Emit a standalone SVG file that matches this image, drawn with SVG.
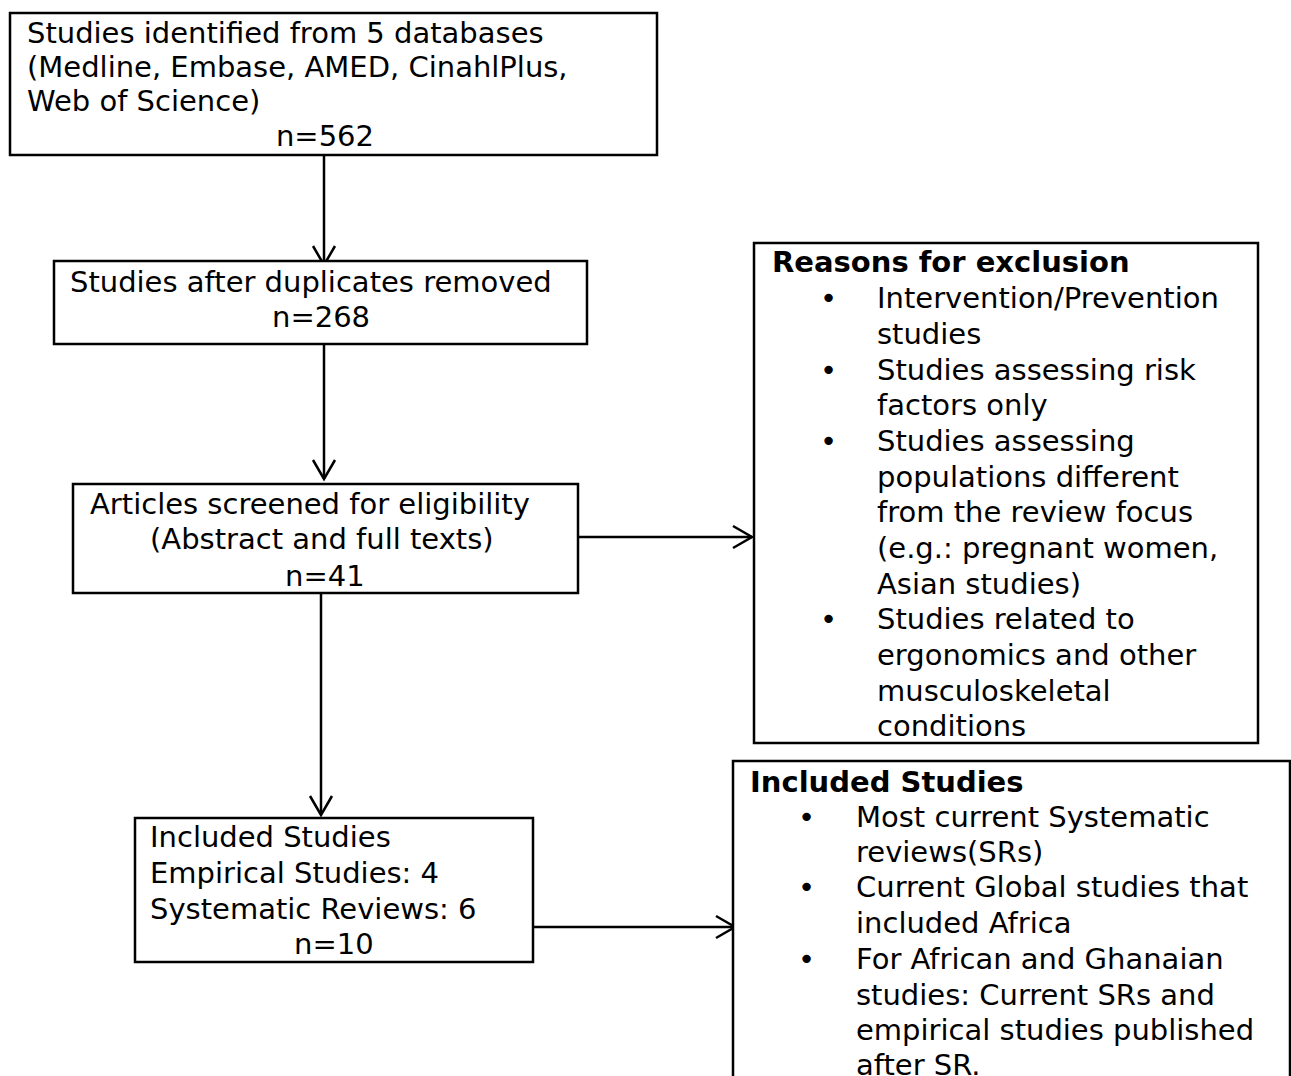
<svg xmlns="http://www.w3.org/2000/svg" width="1291" height="1076" viewBox="0 0 1291 1076">
<defs>
<style>
.box{fill:#fff;stroke:#000;stroke-width:2.5}
.t{font-family:"DejaVu Sans","Verdana",sans-serif;font-size:29px;fill:#000}
.b{font-weight:bold}
.c{fill:none;stroke:#000;stroke-width:2.5}
</style>
<marker id="ah" markerUnits="userSpaceOnUse" markerWidth="26" markerHeight="28" refX="22" refY="13" orient="auto">
<path d="M3,2 L22,13 L3,24" fill="none" stroke="#000" stroke-width="2.5"/>
</marker>
</defs>
<rect width="1291" height="1076" fill="#fff"/>
<g id="connectors">
<line class="c" x1="324" y1="155" x2="324" y2="265" marker-end="url(#ah)"/>
<line class="c" x1="324" y1="345" x2="324" y2="479" marker-end="url(#ah)"/>
<line class="c" x1="578" y1="537" x2="752" y2="537" marker-end="url(#ah)"/>
<line class="c" x1="321" y1="594" x2="321" y2="815" marker-end="url(#ah)"/>
<line class="c" x1="533" y1="927" x2="735" y2="927" stroke-width="3" marker-end="url(#ah)"/>
</g>
<g id="identified">
<rect class="box" x="10" y="13" width="647" height="142"/>
<text class="t" x="27" y="43">Studies identified from 5 databases</text>
<text class="t" x="27" y="77">(Medline, Embase, AMED, CinahlPlus,</text>
<text class="t" x="27" y="111">Web of Science)</text>
<text class="t" x="325" y="146" text-anchor="middle">n=562</text>
</g>
<g id="duplicates">
<rect class="box" x="54" y="261" width="533" height="83"/>
<text class="t" x="70" y="292">Studies after duplicates removed</text>
<text class="t" x="272" y="327">n=268</text>
</g>
<g id="screened">
<rect class="box" x="73" y="484" width="505" height="109"/>
<text class="t" x="90" y="514">Articles screened for eligibility</text>
<text class="t" x="150" y="549">(Abstract and full texts)</text>
<text class="t" x="285" y="586">n=41</text>
</g>
<g id="exclusion">
<rect class="box" x="754" y="243" width="504" height="500"/>
<text class="t b" x="772" y="272">Reasons for exclusion</text>
<g class="t">
<text x="820" y="308">•</text><text x="877" y="308">Intervention/Prevention</text>
<text x="877" y="344">studies</text>
<text x="820" y="380">•</text><text x="877" y="380">Studies assessing risk</text>
<text x="877" y="415">factors only</text>
<text x="820" y="451">•</text><text x="877" y="451">Studies assessing</text>
<text x="877" y="487">populations different</text>
<text x="877" y="522">from the review focus</text>
<text x="877" y="558">(e.g.: pregnant women,</text>
<text x="877" y="594">Asian studies)</text>
<text x="820" y="629">•</text><text x="877" y="629">Studies related to</text>
<text x="877" y="665">ergonomics and other</text>
<text x="877" y="701">musculoskeletal</text>
<text x="877" y="736">conditions</text>
</g>
</g>
<g id="included">
<rect class="box" x="135" y="818" width="398" height="144"/>
<text class="t" x="150" y="847">Included Studies</text>
<text class="t" x="150" y="883">Empirical Studies: 4</text>
<text class="t" x="150" y="919">Systematic Reviews: 6</text>
<text class="t" x="294" y="954">n=10</text>
</g>
<g id="included-criteria">
<rect class="box" x="733" y="761" width="557" height="340"/>
<text class="t b" x="750" y="792">Included Studies</text>
<g class="t">
<text x="798" y="827">•</text><text x="856" y="827">Most current Systematic</text>
<text x="856" y="862">reviews(SRs)</text>
<text x="798" y="897">•</text><text x="856" y="897">Current Global studies that</text>
<text x="856" y="933">included Africa</text>
<text x="798" y="969">•</text><text x="856" y="969">For African and Ghanaian</text>
<text x="856" y="1005">studies: Current SRs and</text>
<text x="856" y="1040">empirical studies published</text>
<text x="856" y="1075">after SR.</text>
</g>
</g>
</svg>
